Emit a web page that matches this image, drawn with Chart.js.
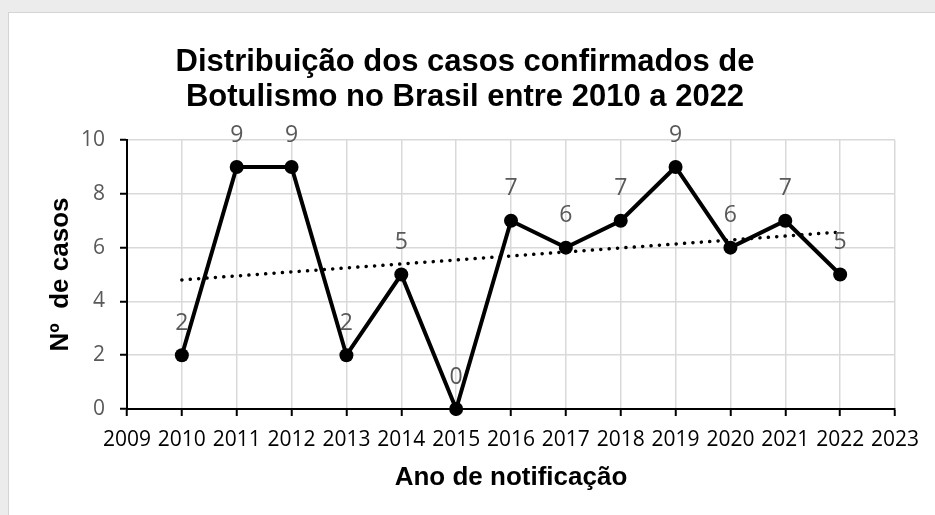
<!DOCTYPE html>
<html>
<head>
<meta charset="utf-8">
<script src="https://cdn.jsdelivr.net/npm/chart.js@4/dist/chart.umd.min.js"></script>
<style>
  html, body { margin: 0; padding: 0; }
  body { width: 935px; height: 515px; background: #ececec; position: relative; overflow: hidden; }
  .sheet { position: absolute; left: 8px; top: 12px; right: 0; bottom: 0; background: #fff;
           border-top: 1px solid #d4d4d4; border-left: 1px solid #d4d4d4; }
  .wrap { position: absolute; left: 0; top: 0; width: 935px; height: 515px; }
</style>
</head>
<body>
<div class="sheet"></div>
<div class="wrap"><canvas id="chart"></canvas></div>
<script>
const years = [2010, 2011, 2012, 2013, 2014, 2015, 2016, 2017, 2018, 2019, 2020, 2021, 2022]
const cases = [2, 9, 9, 2, 5, 0, 7, 6, 7, 9, 6, 7, 5]
// linear trendline end points
const trendYears = [2010, 2022]
const trendValues = [4.8, 6.58]
const yTicks = [0, 2, 4, 6, 8, 10]

const titleLines = ['Distribuição dos casos confirmados de', 'Botulismo no Brasil entre 2010 a 2022']

const pointLabels = {
  id: 'pointLabels',
  afterDatasetsDraw(chart) {
    const ctx = chart.ctx
    const meta = chart.getDatasetMeta(1)
    ctx.save()
    ctx.font = '23px "Open Sans"'
    ctx.fillStyle = '#595959'
    ctx.textAlign = 'center'
    ctx.textBaseline = 'middle'
    meta.data.forEach((pt, i) => {
      ctx.fillText(String(cases[i]), pt.x, pt.y - 32)
    })
    ctx.restore()
  }
}

new Chart(document.getElementById('chart'), {
  type: 'scatter',
  data: {
    datasets: [{
      label: 'Linear',
      data: trendYears.map((x, i) => ({x: x, y: trendValues[i]})),
      showLine: true,
      borderColor: '#000',
      borderWidth: 3.5,
      borderDash: [0.1, 8.3],
      borderCapStyle: 'round',
      pointRadius: 0,
      clip: false
    }, {
      label: 'Casos',
      data: years.map((x, i) => ({x: x, y: cases[i]})),
      showLine: true,
      borderColor: '#000',
      borderWidth: 4,
      backgroundColor: '#000',
      pointRadius: 7,
      pointBackgroundColor: '#000',
      pointBorderWidth: 0,
      clip: false
    }]
  },
  options: {
    responsive: true,
    maintainAspectRatio: false,
    animation: false,
    layout: {padding: {left: 5, right: 10, top: 0, bottom: 0}},
    plugins: {
      legend: {display: false},
      tooltip: {enabled: false},
      title: {
        display: true,
        text: titleLines,
        color: '#000',
        font: {family: '"Liberation Sans", Arial', size: 31, weight: 'bold', lineHeight: 1.13},
        padding: {top: 45, bottom: 25}
      }
    },
    scales: {
      x: {
        type: 'linear',
        min: 2009,
        max: 2023,
        afterFit: (s) => { s.height = 106 },
        border: {display: true, color: '#000', width: 2},
        grid: {color: '#d9d9d9', lineWidth: 1.5, tickColor: '#000', tickWidth: 2, tickLength: 7},
        ticks: {
          stepSize: 1,
          color: '#000',
          padding: 11,
          maxRotation: 0,
          autoSkip: false,
          font: {family: '"Open Sans"', size: 21},
          callback: (v) => String(v)
        },
        title: {
          display: true,
          text: 'Ano de notificação',
          color: '#000',
          font: {family: '"Liberation Sans", Arial', size: 26, weight: 'bold'},
          padding: {top: 0, bottom: 22}
        }
      },
      y: {
        min: 0,
        max: 10,
        afterFit: (s) => { s.width = 122 },
        afterBuildTicks: (s) => { s.ticks = yTicks.map(v => ({value: v})) },
        border: {display: true, color: '#000', width: 2},
        grid: {color: '#d9d9d9', lineWidth: 1.5, tickColor: '#000', tickWidth: 2, tickLength: 7},
        ticks: {
          color: '#595959',
          padding: 15,
          font: {family: '"Open Sans"', size: 21}
        },
        title: {
          display: true,
          text: 'Nº  de casos',
          color: '#000',
          font: {family: '"Liberation Sans", Arial', size: 26, weight: 'bold'},
          padding: {top: 40, bottom: 0}
        }
      },
      // empty right-hand margin, keeps the title centred on the page
      yRight: {
        position: 'right',
        display: true,
        min: 0,
        max: 10,
        afterFit: (s) => { s.width = 30 },
        border: {display: false},
        grid: {display: false},
        ticks: {display: false}
      }
    }
  },
  plugins: [pointLabels]
})
</script>
</body>
</html>
